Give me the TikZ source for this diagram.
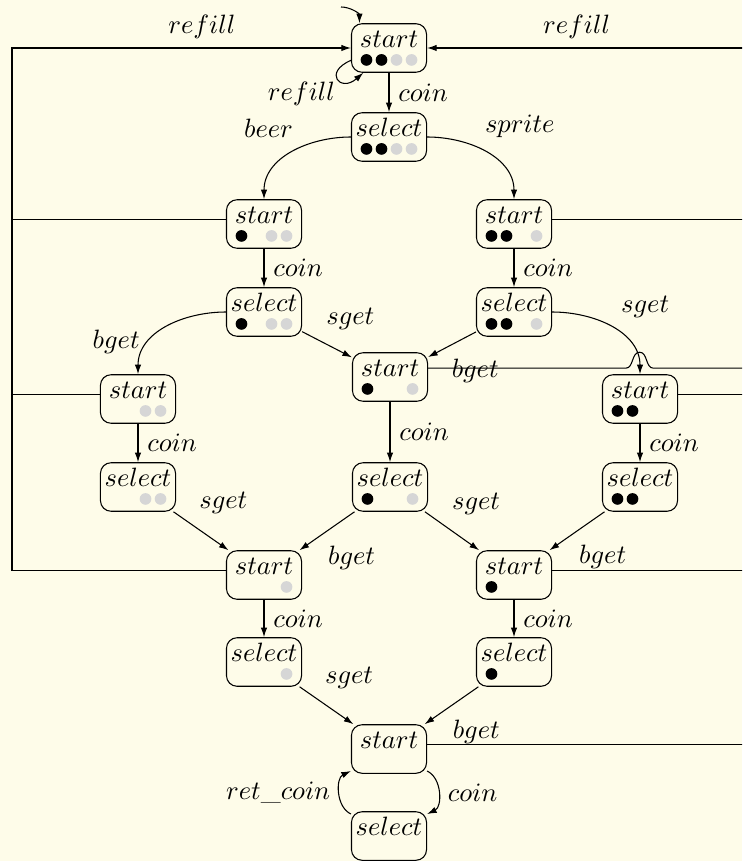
\documentclass[tikz,border=0pt]{standalone}
\usepackage{tikz}
\usetikzlibrary{arrows.meta}

\definecolor{paper}{RGB}{254,252,233}
\colorlet{beer}{black}
\colorlet{sprite}{black!16}

% bottles left in a state: slot/colour pairs, slots 1-2 beer, 3-4 sprite
\newcommand{\stock}[2]{%
  \foreach \slot/\kind in {#2}
    \fill[fill=\kind] ([shift={({(\slot-2.5)*5.66pt},-4.5pt)}]#1.center) circle (2.2pt);%
}

\begin{document}
\begin{tikzpicture}[
  x=.377pt,y=-.377pt,>={Latex[length=3.6pt,width=2.4pt]},
  machine/.style={draw,rounded corners=4pt,minimum width=28.3pt,minimum height=18.3pt,inner sep=0pt,text height=8.8pt,text depth=9.5pt}
]
\useasboundingbox (0,0) rectangle (742,861);
\fill[paper] (0,0) rectangle (742,861);
\clip (0,0) rectangle (742,861);

\node[machine] (s0) at (389,48) {$start$};
\node[machine] (sel0) at (389,137) {$select$};
\node[machine] (sL1) at (264,224) {$start$};
\node[machine] (sR1) at (514,224) {$start$};
\node[machine] (selL1) at (264,312) {$select$};
\node[machine] (selR1) at (514,312) {$select$};
\node[machine] (sLL) at (138,399) {$start$};
\node[machine] (sM) at (390,377) {$start$};
\node[machine] (sRR) at (640,399) {$start$};
\node[machine] (selLL) at (138,487) {$select$};
\node[machine] (selM) at (390,487) {$select$};
\node[machine] (selRR) at (640,487) {$select$};
\node[machine] (sL3) at (264,575) {$start$};
\node[machine] (sR3) at (514,575) {$start$};
\node[machine] (selL3) at (264,662) {$select$};
\node[machine] (selR3) at (514,662) {$select$};
\node[machine] (sB) at (389,749) {$start$};
\node[machine] (selB) at (389,836) {$select$};

\stock{s0}{1/beer,2/beer,3/sprite,4/sprite}
\stock{sel0}{1/beer,2/beer,3/sprite,4/sprite}
\stock{sL1}{1/beer,3/sprite,4/sprite}
\stock{selL1}{1/beer,3/sprite,4/sprite}
\stock{sR1}{1/beer,2/beer,4/sprite}
\stock{selR1}{1/beer,2/beer,4/sprite}
\stock{sLL}{3/sprite,4/sprite}
\stock{selLL}{3/sprite,4/sprite}
\stock{sM}{1/beer,4/sprite}
\stock{selM}{1/beer,4/sprite}
\stock{sRR}{1/beer,2/beer}
\stock{selRR}{1/beer,2/beer}
\stock{sL3}{4/sprite}
\stock{selL3}{4/sprite}
\stock{sR3}{1/beer}
\stock{selR3}{1/beer}

\coordinate (init) at (341,7);
\coordinate (lbar) at (12,48);
\coordinate (rbar) at (752,48);

\draw[->] (init) to[out=0,in=90] (s0.140);
\draw[->] (s0.198) .. controls +(-28,12) and +(-23,20) .. node[below left,inner sep=1pt] {$refill$} (s0.224);
\draw[->] (s0) -- node[right] {$coin$} (sel0);
\draw[->] (sel0) to[out=180,in=90] node[above left,pos=.4] {$beer$} (sL1);
\draw[->] (sel0) to[out=0,in=90] node[above right,pos=.4] {$sprite$} (sR1);
\draw[->] (sL1) -- node[right] {$coin$} (selL1);
\draw[->] (sR1) -- node[right] {$coin$} (selR1);
\draw[->] (selL1) to[out=180,in=90] node[left,pos=.7] {$bget$} (sLL);
\draw[->] (selL1) -- node[above right,pos=.3] {$sget$} (sM);
\draw[->] (selR1) -- node[below right,pos=.7] {$bget$} (sM);
\draw[->] (selR1) to[out=0,in=90] node[above right] {$sget$} (sRR);
\draw[->] (sLL) -- node[right] {$coin$} (selLL);
\draw[->] (sM) -- node[right] {$coin$} (selM);
\draw[->] (sRR) -- node[right] {$coin$} (selRR);
\draw[->] (selLL) -- node[above right,pos=.3] {$sget$} (sL3);
\draw[->] (selM) -- node[below right,pos=.65] {$bget$} (sL3);
\draw[->] (selM) -- node[above right,pos=.33] {$sget$} (sR3);
\draw[->] (selRR) -- node[below right,pos=.63] {$bget$} (sR3);
\draw[->] (sL3) -- node[right] {$coin$} (selL3);
\draw[->] (sR3) -- node[right] {$coin$} (selR3);
\draw[->] (selL3) -- node[above right,pos=.3] {$sget$} (sB);
\draw[->] (selR3) -- node[below right,pos=.65] {$bget$} (sB);
\draw[->] (sB.-30) to[bend left=65] node[right] {$coin$} (selB.30);
\draw[->] (selB.150) to[bend left=65] node[left] {$ret\_coin$} (sB.210);

\draw (sL1.173) -- (sL1.173 -| lbar);
\draw (sLL.173) -- (sLL.173 -| lbar);
\draw[->] (sL3.173) -| (lbar) -- node[above,pos=.56] {$refill$} (s0.west);
\draw (sR1.7) -- (sR1.7 -| rbar);
\draw (sM.13) -- ++(197.5,0) to[out=0,in=180] ++(14,-16) to[out=0,in=180] ++(14,16) -- (sM.13 -| rbar);
\draw (sRR.7) -- (sRR.7 -| rbar);
\draw (sR3.7) -- (sR3.7 -| rbar);
\draw[->] (sB.7) -| (rbar) -- node[above,pos=.54] {$refill$} (s0.east);
\end{tikzpicture}
\end{document}
